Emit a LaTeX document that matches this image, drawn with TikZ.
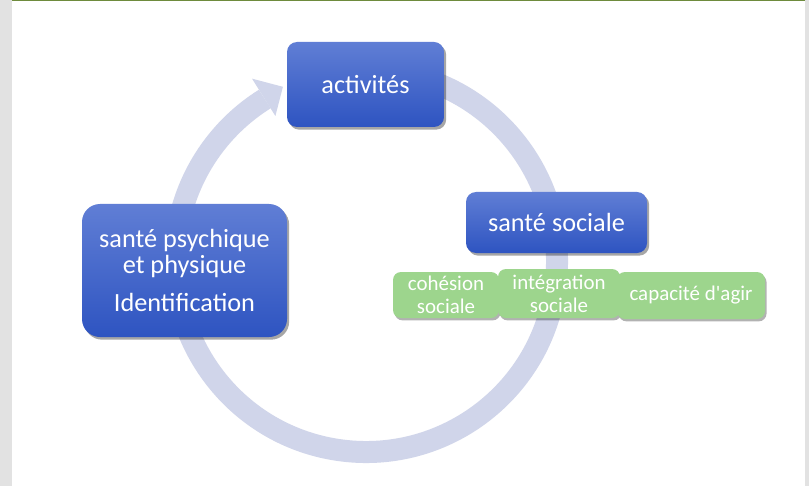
\documentclass[tikz,border=0pt]{standalone}
\usepackage{fontspec}
\setmainfont{Carlito}
\usetikzlibrary{shadows,calc}
\definecolor{ringcol}{RGB}{208,213,234}
\definecolor{bluetop}{RGB}{96,126,213}
\definecolor{bluebot}{RGB}{46,84,193}
\definecolor{greenbox}{RGB}{157,213,141}
\definecolor{stripgray}{RGB}{226,226,226}
\definecolor{stripgreen}{RGB}{110,139,61}
\begin{document}
\begin{tikzpicture}[x=0.75pt,y=0.75pt,
  bluebox/.style={rounded corners=7.5pt, top color=bluetop, bottom color=bluebot,
    text=white, align=center, inner sep=0pt,
    font=\fontsize{19.7}{21}\selectfont,
    drop shadow={shadow xshift=1.6pt, shadow yshift=-2pt, opacity=0.35, fill=black}},
  greenbox/.style={rounded corners=6pt, fill=greenbox, text=white, align=center,
    inner sep=0pt, font=\fontsize{15.7}{17.25}\selectfont,
    drop shadow={shadow xshift=1.2pt, shadow yshift=-1.8pt, opacity=0.3, fill=black}},
  ring/.style={draw=ringcol, line width=16.5pt, line cap=butt}
]
\useasboundingbox (0,0) rectangle (809,486);
\fill[white] (0,0) rectangle (809,486);
\fill[stripgray] (0,0) rectangle (12,486);
\fill[stripgray] (805,0) rectangle (809,486);
\fill[stripgreen] (12,484.5) rectangle (805,486);

% circular arrow
\coordinate (c) at (366,225);
\draw[ring] ($(c)+(80:143.25pt)$) arc[start angle=80, end angle=-238, radius=143.25pt];
\fill[ringcol] ($(c)+(122:161.25pt)$) -- ($(c)+(115.5:144.75pt)$) -- ($(c)+(122:128.25pt)$) -- cycle;

% blue boxes
\node[bluebox, minimum width=117.75pt, minimum height=63.75pt] (act) at (365.5,401.5) {activités};
\node[bluebox, minimum width=135.75pt, minimum height=45.75pt] (soc) at (556.5,263.5) {santé sociale};
\node[bluebox, rounded corners=13.5pt, minimum width=153.75pt, minimum height=99.75pt] (psy) at (184.5,215.5)
  {santé psychique\\[-1pt] et physique\\[7.5pt] Identification};

% green boxes
\node[greenbox, minimum width=79.5pt, minimum height=34.5pt] (coh) at (446,191) {cohésion\\ sociale};
\node[greenbox, minimum width=91.5pt, minimum height=36.75pt] (int) at (559,192.5) {intégration\\ sociale};
\node[greenbox, minimum width=111pt, minimum height=35.25pt] (cap) at (691,190.5) {capacité d\textquotesingle agir};
\end{tikzpicture}
\end{document}
